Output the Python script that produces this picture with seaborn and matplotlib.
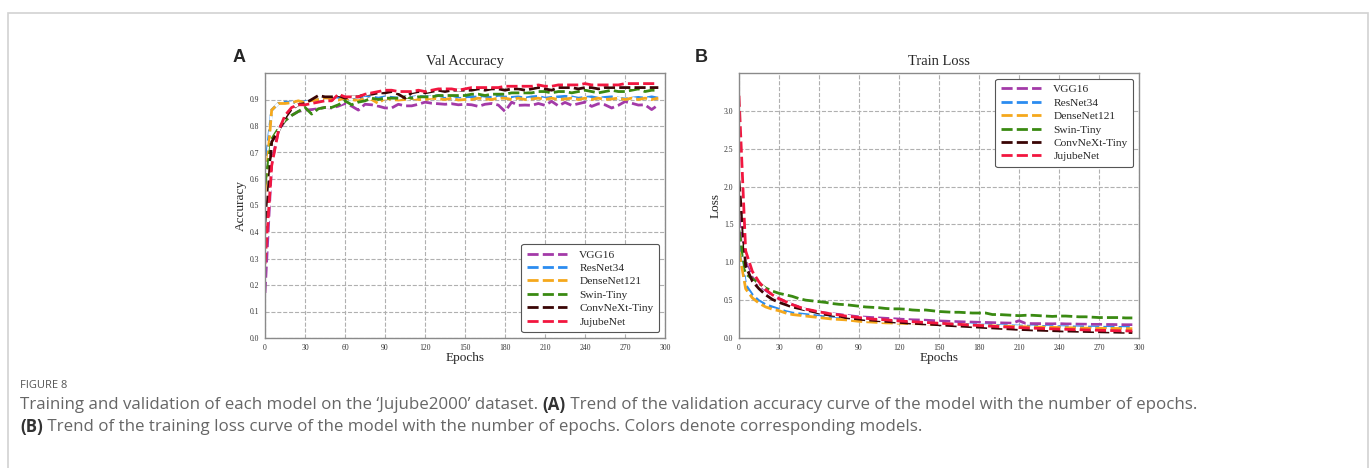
import numpy as np
import pandas as pd
import matplotlib
matplotlib.use("Agg")
import matplotlib.pyplot as plt
import seaborn as sns
from matplotlib.patches import Rectangle

# ---------- DATA ----------
epochs = list(range(0, 300, 5))
models = ["VGG16", "ResNet34", "DenseNet121", "Swin-Tiny", "ConvNeXt-Tiny", "JujubeNet"]
colors = ["#a33aa8", "#2b8cf0", "#f5a81c", "#3a8a12", "#3a0505", "#f2163f"]

vgg_acc = [0.17, 0.66, 0.78, 0.82, 0.84, 0.855, 0.86, 0.862, 0.865, 0.87,
           0.868, 0.875, 0.885, 0.875, 0.86, 0.882, 0.88, 0.875, 0.868, 0.868,
           0.882, 0.876, 0.876, 0.882, 0.89, 0.886, 0.884, 0.882, 0.884, 0.88,
           0.882, 0.88, 0.874, 0.882, 0.885, 0.879, 0.855, 0.89, 0.878, 0.879,
           0.878, 0.885, 0.878, 0.893, 0.876, 0.889, 0.878, 0.884, 0.89, 0.874,
           0.884, 0.88, 0.868, 0.878, 0.892, 0.886, 0.879, 0.88, 0.862, 0.88]
resnet_acc = [0.63, 0.86, 0.885, 0.89, 0.89, 0.888, 0.892, 0.895, 0.9, 0.898,
              0.902, 0.905, 0.905, 0.9, 0.905, 0.908, 0.91, 0.905, 0.91, 0.908,
              0.905, 0.91, 0.908, 0.912, 0.91, 0.912, 0.915, 0.91, 0.905, 0.91,
              0.908, 0.91, 0.912, 0.908, 0.91, 0.912, 0.91, 0.908, 0.91, 0.905,
              0.91, 0.912, 0.905, 0.908, 0.91, 0.912, 0.91, 0.905, 0.908, 0.91,
              0.905, 0.908, 0.91, 0.905, 0.902, 0.905, 0.908, 0.905, 0.91, 0.905]
dense_acc = [0.55, 0.86, 0.885, 0.885, 0.888, 0.895, 0.888, 0.895, 0.9, 0.905,
             0.9, 0.898, 0.905, 0.9, 0.895, 0.905, 0.9, 0.885, 0.905, 0.9,
             0.898, 0.9, 0.905, 0.9, 0.9, 0.905, 0.902, 0.9, 0.905, 0.898,
             0.9, 0.9, 0.905, 0.902, 0.9, 0.905, 0.905, 0.9, 0.905, 0.9,
             0.902, 0.905, 0.9, 0.905, 0.9, 0.902, 0.905, 0.9, 0.905, 0.9,
             0.905, 0.9, 0.902, 0.905, 0.9, 0.905, 0.9, 0.905, 0.9, 0.905]
swin_acc = [0.58, 0.75, 0.79, 0.82, 0.84, 0.855, 0.87, 0.845, 0.865, 0.87,
            0.87, 0.88, 0.895, 0.88, 0.89, 0.895, 0.905, 0.9, 0.905, 0.905,
            0.905, 0.91, 0.905, 0.91, 0.91, 0.91, 0.915, 0.915, 0.915, 0.915,
            0.915, 0.92, 0.92, 0.915, 0.92, 0.92, 0.92, 0.925, 0.925, 0.925,
            0.925, 0.93, 0.93, 0.925, 0.93, 0.93, 0.925, 0.93, 0.935, 0.93,
            0.925, 0.93, 0.935, 0.93, 0.93, 0.935, 0.94, 0.93, 0.935, 0.935]
convnext_acc = [0.38, 0.74, 0.78, 0.83, 0.865, 0.88, 0.885, 0.9, 0.915, 0.91,
                0.91, 0.915, 0.905, 0.91, 0.91, 0.92, 0.92, 0.925, 0.925, 0.93,
                0.92, 0.905, 0.925, 0.93, 0.925, 0.93, 0.935, 0.93, 0.935, 0.935,
                0.935, 0.935, 0.94, 0.935, 0.94, 0.94, 0.935, 0.94, 0.94, 0.935,
                0.94, 0.945, 0.94, 0.935, 0.945, 0.945, 0.945, 0.94, 0.945, 0.945,
                0.94, 0.945, 0.945, 0.945, 0.945, 0.945, 0.945, 0.945, 0.945, 0.945]
jujube_acc = [0.28, 0.65, 0.78, 0.84, 0.87, 0.88, 0.88, 0.885, 0.89, 0.895,
              0.895, 0.92, 0.91, 0.91, 0.91, 0.92, 0.925, 0.93, 0.935, 0.935,
              0.93, 0.93, 0.93, 0.935, 0.93, 0.935, 0.94, 0.94, 0.94, 0.935,
              0.94, 0.945, 0.945, 0.945, 0.945, 0.945, 0.95, 0.95, 0.95, 0.95,
              0.95, 0.955, 0.95, 0.95, 0.955, 0.955, 0.955, 0.955, 0.96, 0.955,
              0.955, 0.955, 0.955, 0.955, 0.96, 0.96, 0.96, 0.96, 0.96, 0.96]

vgg_loss = [1.6, 1.0, 0.8, 0.7, 0.63, 0.57, 0.52, 0.48, 0.44, 0.41,
            0.38, 0.36, 0.345, 0.33, 0.32, 0.31, 0.3, 0.29, 0.28, 0.275,
            0.27, 0.265, 0.26, 0.255, 0.25, 0.245, 0.24, 0.238, 0.235, 0.23,
            0.225, 0.222, 0.218, 0.215, 0.212, 0.21, 0.207, 0.205, 0.203, 0.2,
            0.198, 0.196, 0.228, 0.192, 0.19, 0.19, 0.188, 0.187, 0.19, 0.186,
            0.185, 0.183, 0.182, 0.18, 0.18, 0.178, 0.178, 0.176, 0.175, 0.175]
resnet_loss = [1.28, 0.7, 0.57, 0.49, 0.44, 0.41, 0.38, 0.35, 0.33, 0.32,
               0.31, 0.3, 0.29, 0.28, 0.27, 0.26, 0.25, 0.245, 0.24, 0.235,
               0.23, 0.225, 0.22, 0.215, 0.21, 0.205, 0.2, 0.198, 0.195, 0.19,
               0.188, 0.185, 0.182, 0.18, 0.178, 0.175, 0.172, 0.17, 0.168, 0.165,
               0.163, 0.16, 0.158, 0.157, 0.155, 0.153, 0.152, 0.15, 0.149, 0.148,
               0.147, 0.146, 0.145, 0.144, 0.143, 0.142, 0.141, 0.14, 0.14, 0.139]
dense_loss = [1.15, 0.65, 0.53, 0.46, 0.41, 0.38, 0.36, 0.33, 0.31, 0.3,
              0.29, 0.28, 0.27, 0.26, 0.25, 0.245, 0.24, 0.23, 0.22, 0.215,
              0.21, 0.205, 0.2, 0.198, 0.195, 0.192, 0.19, 0.188, 0.185, 0.182,
              0.18, 0.177, 0.175, 0.172, 0.17, 0.167, 0.165, 0.162, 0.16, 0.157,
              0.155, 0.152, 0.15, 0.148, 0.146, 0.144, 0.142, 0.14, 0.138, 0.136,
              0.134, 0.132, 0.13, 0.129, 0.128, 0.127, 0.126, 0.125, 0.124, 0.123]
swin_loss = [1.42, 0.85, 0.78, 0.72, 0.66, 0.62, 0.59, 0.57, 0.55, 0.52,
             0.5, 0.49, 0.48, 0.47, 0.455, 0.445, 0.44, 0.43, 0.42, 0.41,
             0.405, 0.4, 0.39, 0.385, 0.385, 0.38, 0.37, 0.365, 0.37, 0.36,
             0.35, 0.345, 0.34, 0.34, 0.335, 0.33, 0.33, 0.33, 0.31, 0.31,
             0.305, 0.3, 0.295, 0.3, 0.3, 0.295, 0.29, 0.285, 0.29, 0.29,
             0.285, 0.28, 0.28, 0.275, 0.27, 0.27, 0.27, 0.27, 0.265, 0.265]
convnext_loss = [2.08, 0.95, 0.75, 0.65, 0.57, 0.51, 0.47, 0.44, 0.41, 0.39,
                 0.37, 0.35, 0.33, 0.31, 0.3, 0.29, 0.27, 0.26, 0.25, 0.24,
                 0.235, 0.228, 0.22, 0.213, 0.207, 0.2, 0.195, 0.19, 0.185, 0.18,
                 0.175, 0.168, 0.163, 0.158, 0.153, 0.148, 0.143, 0.138, 0.133, 0.128,
                 0.123, 0.118, 0.113, 0.11, 0.106, 0.103, 0.1, 0.097, 0.094, 0.092,
                 0.09, 0.088, 0.086, 0.084, 0.082, 0.08, 0.078, 0.076, 0.074, 0.072]
jujube_loss = [3.2, 1.15, 0.88, 0.74, 0.64, 0.57, 0.52, 0.48, 0.44, 0.41,
               0.38, 0.365, 0.345, 0.33, 0.315, 0.305, 0.29, 0.28, 0.27, 0.26,
               0.25, 0.245, 0.24, 0.232, 0.225, 0.22, 0.215, 0.21, 0.205, 0.2,
               0.195, 0.19, 0.185, 0.18, 0.175, 0.17, 0.165, 0.16, 0.155, 0.15,
               0.146, 0.142, 0.138, 0.134, 0.13, 0.127, 0.124, 0.121, 0.118, 0.115,
               0.112, 0.11, 0.107, 0.105, 0.102, 0.1, 0.098, 0.096, 0.094, 0.092]

acc_series = [vgg_acc, resnet_acc, dense_acc, swin_acc, convnext_acc, jujube_acc]
loss_series = [vgg_loss, resnet_loss, dense_loss, swin_loss, convnext_loss, jujube_loss]

caption_head = "FIGURE 8"
caption_1 = [("Training and validation of each model on the \u2018Jujube2000\u2019 dataset. ", "normal"),
             ("(A)", "bold"),
             (" Trend of the validation accuracy curve of the model with the number of epochs.", "normal")]
caption_2 = [("(B)", "bold"),
             (" Trend of the training loss curve of the model with the number of epochs. Colors denote corresponding models.", "normal")]


def to_long(series):
    frames = [pd.DataFrame({"epoch": epochs, "value": vals, "model": m})
              for m, vals in zip(models, series)]
    return pd.concat(frames, ignore_index=True)


acc_df = to_long(acc_series)
loss_df = to_long(loss_series)

# ---------- STYLE ----------
sns.set_style("whitegrid", {"grid.linestyle": "--", "grid.color": "#b0b0b0",
                            "axes.edgecolor": "#8a8a8a"})
plt.rcParams["font.family"] = ["Liberation Serif", "DejaVu Serif"]

W, H = 1372, 468
fig = plt.figure(figsize=(W / 100, H / 100), dpi=100)

# outer frame of the figure panel
fig.patches.append(Rectangle((8 / W, -0.05), (1368 - 8) / W, 1.05 - 13 / H,
                             transform=fig.transFigure, fill=False,
                             edgecolor="#d2d2d2", linewidth=1.2))

ax_a = fig.add_axes([265 / W, 1 - 338 / H, 400 / W, 265 / H])
ax_b = fig.add_axes([739 / W, 1 - 338 / H, 400 / W, 265 / H])

panels = [(ax_a, acc_df, "Val Accuracy", "Accuracy", (0, 1.0), np.arange(0, 1.0, 0.1), "lower right", "A"),
          (ax_b, loss_df, "Train Loss", "Loss", (0, 3.5), np.arange(0, 3.5, 0.5), "upper right", "B")]

for ax, df, title, ylab, ylim, yt, loc, tag in panels:
    sns.lineplot(data=df, x="epoch", y="value", hue="model", hue_order=models,
                 palette=colors, ax=ax, linewidth=2.0, legend=False)
    for line in ax.lines:
        line.set_linestyle((0, (4, 1.5)))
        line.set_gapcolor("white")
    ax.set_xlim(0, 300)
    ax.set_ylim(*ylim)
    ax.set_xticks(range(0, 301, 30))
    ax.set_yticks(yt)
    ax.set_yticklabels([f"{v:.1f}" for v in yt])
    ax.tick_params(labelsize=5.5, length=2, pad=2, colors="#333333")
    ax.set_title(title, fontsize=10.5, pad=6)
    ax.set_xlabel("Epochs", fontsize=9.5, labelpad=0)
    ax.set_ylabel(ylab, fontsize=9.5, labelpad=2)
    for sp in ax.spines.values():
        sp.set_linewidth(1.0)
    handles = ax.lines[:len(models)]
    leg = ax.legend(handles, models, loc=loc, fontsize=8.2, handlelength=3.5,
                    frameon=True, fancybox=True, framealpha=1,
                    edgecolor="#555555", borderpad=0.5, labelspacing=0.3,
                    handletextpad=1.1)
    leg.get_frame().set_linewidth(0.8)
    ax.text(-0.08 if tag == "A" else -0.11, 1.06, tag, transform=ax.transAxes,
            fontsize=13, fontweight="bold", family="Liberation Sans", va="center")

# ---------- CAPTION ----------
cap_font = ["Open Sans", "DejaVu Sans"]
fig.text(20 / W, 1 - 385 / H, caption_head, fontsize=8, color="#555555",
         family=cap_font, va="center")

renderer = fig.canvas.get_renderer()


def write_line(pieces, y_px):
    x = 20 / W
    for txt, weight in pieces:
        t = fig.text(x, 1 - y_px / H, txt, fontsize=12.2,
                     color="#333333" if weight == "bold" else "#666666",
                     family=cap_font, fontweight=weight, va="center")
        bb = t.get_window_extent(renderer=renderer)
        x += bb.width / W


write_line(caption_1, 405)
write_line(caption_2, 427)

fig.savefig("out.png", dpi=100, facecolor="white")
